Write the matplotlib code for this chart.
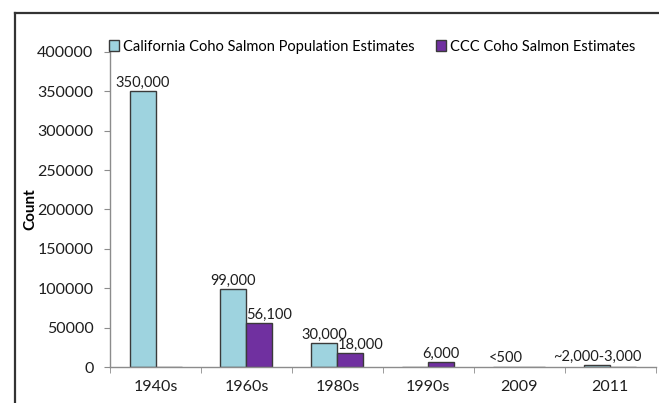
import matplotlib
matplotlib.use('Agg')
import matplotlib.pyplot as plt
from matplotlib.lines import Line2D
import numpy as np

categories = ['1940s', '1960s', '1980s', '1990s', '2009', '2011']
california = [350000, 99000, 30000, 0, 300, 2500]
ccc = [0, 56100, 18000, 6000, 0, 0]
california_labels = ['350,000', '99,000', '30,000', '', '<500', '~2,000-3,000']
ccc_labels = ['', '56,100', '18,000', '6,000', '', '']
y_ticks = [0, 50000, 100000, 150000, 200000, 250000, 300000, 350000, 400000]

plt.rcParams['font.family'] = ['Lato', 'DejaVu Sans']

cyan = '#9ED3DF'
purple = '#7030A0'
edge = '#3a3a3a'
axis_gray = '#8c8c8c'
text_col = '#1e1e1e'

fig = plt.figure(figsize=(6.59, 4.03), dpi=100)
ax = fig.add_axes([0.167, 0.0893, 0.828, 0.782])

x = np.arange(len(categories))
w = 0.286
ax.bar(x - w / 2, california, w, color=cyan, edgecolor=edge, linewidth=1.0,
       label='California Coho Salmon Population Estimates')
ax.bar(x + w / 2, ccc, w, color=purple, edgecolor=edge, linewidth=1.0,
       label='CCC Coho Salmon Estimates')

# data labels
for i, lab in enumerate(california_labels):
    if lab:
        ax.annotate(lab, (x[i] - w / 2, california[i]), xytext=(0, 1),
                    textcoords='offset points', ha='center', va='bottom',
                    fontsize=10.5, color=text_col)
ccc_shift = [0, 7, 7, 0, 0, 0]
for i, lab in enumerate(ccc_labels):
    if lab:
        ax.annotate(lab, (x[i] + w / 2, ccc[i]), xytext=(ccc_shift[i], 1),
                    textcoords='offset points', ha='center', va='bottom',
                    fontsize=10.5, color=text_col)

ax.set_xlim(-0.5, len(categories) - 0.5)
ax.set_ylim(0, 400000)
ax.set_yticks(y_ticks)
ax.set_yticklabels([str(v) for v in y_ticks], fontsize=11.5, color=text_col)
ax.set_xticks(x)
ax.set_xticklabels(categories, fontsize=11.5, color=text_col)
ax.set_xticks(np.arange(len(categories) + 1) - 0.5, minor=True)
ax.tick_params(axis='x', which='major', length=0, pad=9)
ax.tick_params(axis='x', which='minor', length=4, color=axis_gray, direction='out')
ax.tick_params(axis='y', length=4, color=axis_gray, direction='out', pad=8)

for s in ['top', 'right']:
    ax.spines[s].set_visible(False)
for s in ['left', 'bottom']:
    ax.spines[s].set_color(axis_gray)
    ax.spines[s].set_linewidth(1.0)

ax.set_ylabel('Count', fontsize=11, fontweight='bold', labelpad=0)

ax.legend(loc='lower left', bbox_to_anchor=(-0.005, 0.99), ncol=2, frameon=False,
          fontsize=10.5, handlelength=0.7, handleheight=0.7, handletextpad=0.25,
          columnspacing=1.5, borderaxespad=0.0, borderpad=0.1)

# outer frame: only top and left edges are inside the picture
fig.lines.append(Line2D([0.023, 1.0], [0.968, 0.968], transform=fig.transFigure,
                        color='#333333', linewidth=1.6))
fig.lines.append(Line2D([0.023, 0.023], [0.0, 0.968], transform=fig.transFigure,
                        color='#333333', linewidth=1.6))

fig.savefig('out.png', dpi=100)
